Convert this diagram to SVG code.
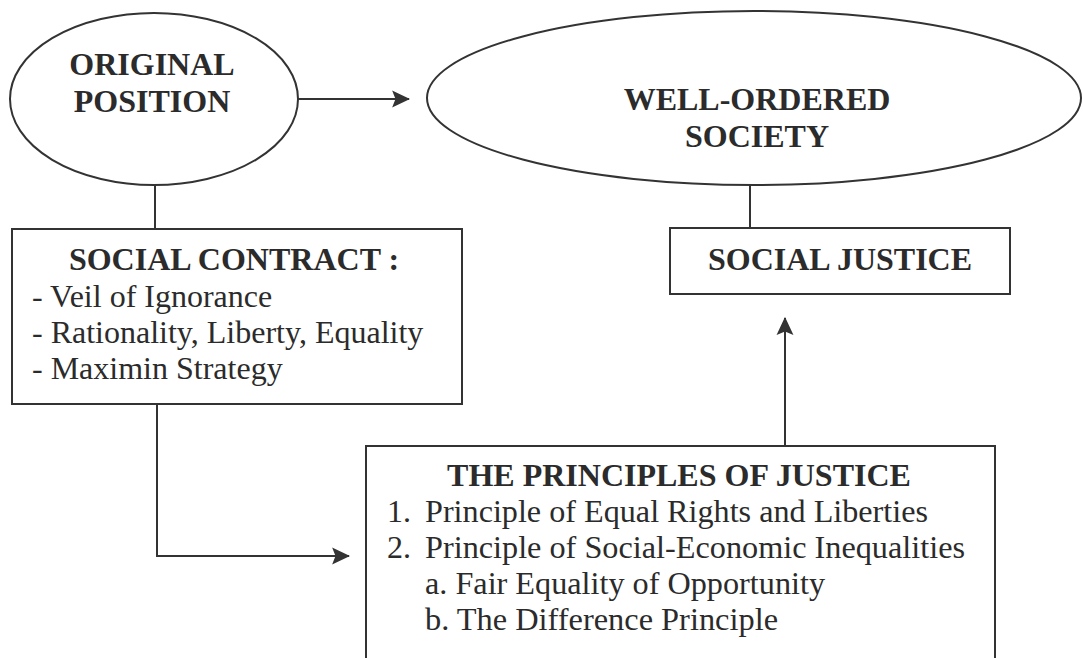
<svg xmlns="http://www.w3.org/2000/svg" width="1083" height="658" viewBox="0 0 1083 658">
<style>
.shape{fill:none;stroke:#333;stroke-width:2}
.conn{fill:none;stroke:#333;stroke-width:2}
.t{font-family:"Liberation Serif","Times New Roman",serif;font-size:32px;fill:#2b2b2b}
.b{font-weight:bold}
.c{text-anchor:middle}
</style>
<defs>
<marker id="ah" markerUnits="userSpaceOnUse" markerWidth="18" markerHeight="18" viewBox="0 0 16 16" refX="15" refY="8" orient="auto">
<path d="M0,0.5 L16,8 L0,15.5 L3,8 Z" fill="#333"/>
</marker>
</defs>
<rect width="1083" height="658" fill="#fff"/>
<g id="connectors">
<line class="conn" x1="298" y1="99" x2="409" y2="99" marker-end="url(#ah)"/>
<line class="conn" x1="155" y1="185" x2="155" y2="229"/>
<line class="conn" x1="750" y1="185" x2="750" y2="228"/>
<path class="conn" d="M157,404 V556 H349" marker-end="url(#ah)"/>
<line class="conn" x1="785" y1="446" x2="785" y2="318" marker-end="url(#ah)"/>
</g>
<g id="original-position">
<ellipse class="shape" cx="154" cy="99" rx="144" ry="86"/>
<text class="t b c" x="152" y="75">ORIGINAL</text>
<text class="t b c" x="152" y="112">POSITION</text>
</g>
<g id="well-ordered-society">
<ellipse class="shape" cx="754" cy="98" rx="327" ry="87"/>
<text class="t b c" x="757" y="110">WELL-ORDERED</text>
<text class="t b c" x="757" y="147">SOCIETY</text>
</g>
<g id="social-contract">
<rect class="shape" x="12" y="229" width="450" height="175"/>
<text class="t b c" x="234" y="270">SOCIAL CONTRACT :</text>
<text class="t" x="32" y="307">- Veil of Ignorance</text>
<text class="t" x="32" y="343">- Rationality, Liberty, Equality</text>
<text class="t" x="32" y="379">- Maximin Strategy</text>
</g>
<g id="social-justice">
<rect class="shape" x="670" y="228" width="340" height="66"/>
<text class="t b c" x="840" y="270">SOCIAL JUSTICE</text>
</g>
<g id="principles-of-justice">
<rect class="shape" x="366" y="446" width="629" height="240"/>
<text class="t b c" x="679" y="486">THE PRINCIPLES OF JUSTICE</text>
<text class="t" x="387" y="522">1.</text>
<text class="t" x="425" y="522" textLength="503" lengthAdjust="spacingAndGlyphs">Principle of Equal Rights and Liberties</text>
<text class="t" x="387" y="558">2.</text>
<text class="t" x="425" y="558" textLength="540" lengthAdjust="spacingAndGlyphs">Principle of Social-Economic Inequalities</text>
<text class="t" x="425" y="594" textLength="400" lengthAdjust="spacingAndGlyphs">a. Fair Equality of Opportunity</text>
<text class="t" x="425" y="630" textLength="353" lengthAdjust="spacingAndGlyphs">b. The Difference Principle</text>
</g>
</svg>
